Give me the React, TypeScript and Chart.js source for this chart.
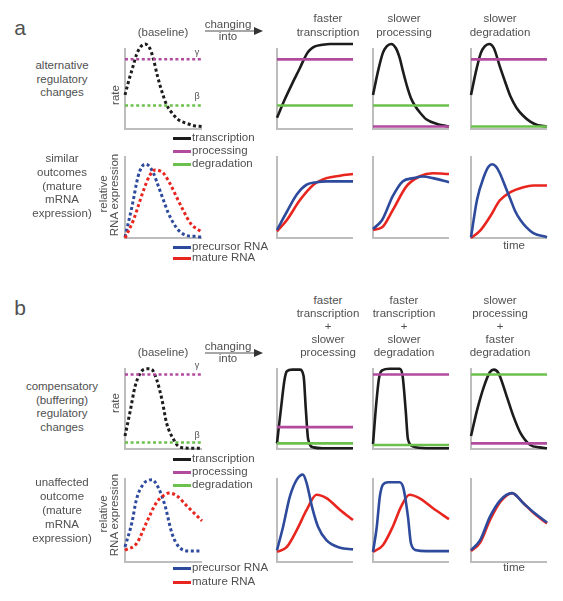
import React, { useEffect, useRef } from "react";
import { Chart, registerables } from "chart.js";

Chart.register(...registerables);

// ---------- colours ----------
const BLACK = "#1c1c1c";
const MAGENTA = "#b24a9e";
const GREEN = "#6cc04c";
const BLUE = "#2d4a9c";
const RED = "#e8261f";
const AXIS = "#bdbdbd";
const TXT = "#505050";
const FONT = "'Liberation Sans', Arial, Helvetica, sans-serif";

// ---------- data (x: time 0..10, y: 0 = axis, 100 = top of axis) ----------
const LINE_X = [0, 10];

// panel a, rates
const aBaseTxX = [0, 0.5, 1, 1.5, 2, 2.6, 3.2, 3.7, 4.2, 4.8, 5.4, 6, 7, 8, 9, 10];
const aBaseTxY = [42, 60, 76, 92, 101, 105, 100, 86, 66, 46, 30, 21, 11, 7, 4, 3];
const aBaseGamma = 86;
const aBaseBeta = 29;

const aFastTxX = [0, 1, 2, 3, 3.5, 4, 4.5, 5, 6, 7, 8, 10];
const aFastTxY = [14, 36, 56, 75, 85, 94, 99, 102, 104, 105, 105, 105];
const aFastProc = 86;
const aFastDeg = 29;

const aSlowProcTxX = [0, 0.7, 1.3, 1.8, 2.4, 3, 3.5, 3.9, 4.5, 5, 5.5, 6.2, 7, 8.5, 10];
const aSlowProcTxY = [42, 73, 94, 102, 105, 100, 88, 73, 52, 38, 29, 20, 12, 6, 3];
const aSlowProcProc = 3;
const aSlowProcDeg = 29;

const aSlowDegTxX = [0, 0.7, 1.3, 1.8, 2.4, 3, 3.8, 4.5, 5.2, 6, 6.9, 7.8, 8.7, 10];
const aSlowDegTxY = [42, 73, 94, 102, 105, 100, 77, 58, 40, 26, 16, 9, 5, 3];
const aSlowDegProc = 86;
const aSlowDegDeg = 3;

// panel a, RNA expression
const aBasePreX = [0, 0.9, 1.7, 2.2, 2.7, 3.2, 3.7, 4.3, 5, 5.6, 6.3, 7, 8, 9, 10];
const aBasePreY = [1, 38, 75, 87, 90, 87, 79, 64, 46, 31, 18, 9, 3, 2, 1];
const aBaseMatX = [0, 1.1, 2.4, 3.2, 3.9, 4.5, 5, 5.8, 6.7, 7.6, 8.5, 10];
const aBaseMatY = [0, 22, 58, 76, 83, 82, 79, 67, 50, 33, 18, 7];

const aFastPreX = [0, 1.3, 2.6, 3.9, 5.2, 6.5, 8, 10];
const aFastPreY = [10, 32, 53, 65, 68, 69, 69, 69];
const aFastMatX = [0, 1.3, 3, 4.8, 6.5, 8.3, 10];
const aFastMatY = [8, 22, 46, 65, 73, 76, 78];

const aSlowProcPreX = [0, 1.2, 2.6, 3.9, 5.3, 6.6, 7.9, 10];
const aSlowProcPreY = [11, 22, 51, 69, 73, 75, 73, 68];
const aSlowProcMatX = [0, 1.2, 2.6, 4.4, 6.1, 7.9, 10];
const aSlowProcMatY = [10, 13, 34, 63, 75, 79, 78];

const aSlowDegPreX = [0, 0.8, 1.7, 2.3, 2.8, 3.3, 3.8, 4.5, 5.2, 5.8, 6.5, 7.3, 8.2, 10];
const aSlowDegPreY = [1, 47, 75, 87, 90, 87, 79, 63, 47, 33, 22, 13, 6, 1];
const aSlowDegMatX = [0, 1.2, 2.5, 3.8, 5.2, 6.9, 8.2, 10];
const aSlowDegMatY = [0, 9, 26, 46, 56, 62, 64, 64];

// panel b, rates
const bBaseTxX = [0, 0.7, 1.3, 2.0, 2.4, 3.0, 3.5, 4.1, 4.8, 5.4, 6.3, 7.0, 8.5, 10];
const bBaseTxY = [16, 48, 77, 94, 98, 99, 98, 86, 61, 32, 12, 3, 1, 1];
const bBaseGamma = 92;
const bBaseBeta = 8;

const bC1TxX = [0, 0.5, 1.0, 1.3, 2.0, 3.0, 3.5, 3.8, 4.1, 4.8, 6, 10];
const bC1TxY = [7, 48, 86, 96, 98, 98, 90, 48, 12, 2, 1, 1];
const bC1Proc = 27;
const bC1Deg = 7;

const bC2TxX = [0, 0.4, 0.8, 1.2, 2.2, 3.5, 3.9, 4.3, 4.6, 5.3, 7, 10];
const bC2TxY = [6, 53, 88, 97, 99, 99, 90, 48, 12, 3, 1, 1];
const bC2Proc = 92;
const bC2Deg = 5;

const bC3TxX = [0, 0.8, 1.7, 2.5, 3.0, 3.6, 4.7, 5.6, 6.5, 7.8, 9, 10];
const bC3TxY = [16, 48, 77, 95, 98, 94, 65, 40, 20, 5, 2, 1];
const bC3Proc = 7;
const bC3Deg = 92;

// panel b, RNA expression
const bBasePreX = [0, 0.9, 1.5, 2.4, 3.0, 3.5, 4.3, 5.2, 6.1, 7.0, 8.5, 10];
const bBasePreY = [18, 47, 75, 93, 97, 98, 89, 67, 34, 18, 13, 13];
const bBaseMatX = [0, 1.5, 2.8, 4.1, 5.0, 5.7, 6.7, 8.0, 10];
const bBaseMatY = [14, 22, 47, 71, 79, 82, 79, 67, 49];

const bC1PreX = [0, 0.8, 1.7, 2.6, 3.4, 3.9, 4.6, 5.4, 6.5, 8.3, 10];
const bC1PreY = [14, 42, 78, 98, 104, 94, 66, 42, 26, 17, 15];
const bC1MatX = [0, 1.3, 2.6, 3.9, 5.2, 6.5, 8.3, 10];
const bC1MatY = [12, 18, 38, 62, 80, 76, 62, 50];

const bC2PreX = [0, 0.5, 0.9, 1.3, 2.0, 3.5, 4.0, 4.6, 5.0, 5.7, 7, 10];
const bC2PreY = [12, 42, 78, 92, 95, 95, 88, 54, 22, 14, 13, 13];
const bC2MatX = [0, 1.3, 2.6, 3.7, 4.8, 6.1, 7.9, 10];
const bC2MatY = [12, 20, 42, 66, 80, 76, 64, 51];

const bC3PreX = [0, 1.2, 2.5, 3.9, 5.4, 6.9, 8.4, 10];
const bC3PreY = [14, 26, 54, 74, 82, 70, 58, 47];
const bC3MatX = [0, 1.2, 2.5, 3.9, 5.4, 6.9, 8.4, 10];
const bC3MatY = [13, 23, 50, 72, 82, 70, 57, 46];

// ---------- chart helpers ----------
type Series = { xs: number[]; ys: number[]; color: string; dash?: boolean; width?: number };

const flat = (v: number) => [v, v];
const PAD = 10;

const axisPlugin = {
  id: "miniAxes",
  beforeDatasetsDraw(chart: any) {
    const { ctx, chartArea: a } = chart;
    ctx.save();
    ctx.strokeStyle = AXIS;
    ctx.lineWidth = 2;
    ctx.lineCap = "butt";
    ctx.beginPath();
    ctx.moveTo(a.left, a.top);
    ctx.lineTo(a.left, a.bottom);
    ctx.lineTo(a.right, a.bottom);
    ctx.stroke();
    ctx.restore();
  },
};

function Mini({ x, y, w, h, series }: { x: number; y: number; w: number; h: number; series: Series[] }) {
  const ref = useRef<HTMLCanvasElement>(null);
  useEffect(() => {
    const chart = new Chart(ref.current as HTMLCanvasElement, {
      type: "line",
      data: {
        datasets: series.map((s) => ({
          data: s.xs.map((xv, i) => ({ x: xv, y: s.ys[i] })),
          borderColor: s.color,
          borderWidth: s.width ?? (s.dash ? 3 : 2.6),
          borderDash: s.dash ? [3, 2.6] : [],
          borderCapStyle: "butt",
          pointRadius: 0,
          cubicInterpolationMode: "monotone",
          fill: false,
          clip: false as any,
        })),
      },
      options: {
        animation: false,
        responsive: false,
        maintainAspectRatio: false,
        events: [],
        layout: { padding: PAD },
        scales: {
          x: { type: "linear", min: 0, max: 10, display: false },
          y: { min: 0, max: 100, display: false },
        },
        plugins: { legend: { display: false }, tooltip: { enabled: false } },
      },
      plugins: [axisPlugin],
    } as any);
    return () => chart.destroy();
  }, []);
  return (
    <canvas
      ref={ref}
      width={w + 2 * PAD}
      height={h + 2 * PAD}
      style={{ position: "absolute", left: x - PAD, top: y - PAD, width: w + 2 * PAD, height: h + 2 * PAD }}
    />
  );
}

function T({ x, y, size = 11.5, rot = false, children }: { x: number; y: number; size?: number; rot?: boolean; children: any }) {
  return (
    <div
      style={{
        position: "absolute",
        left: x,
        top: y,
        transform: `translate(-50%,-50%)${rot ? " rotate(-90deg)" : ""}`,
        fontSize: size,
        lineHeight: 1,
        whiteSpace: "nowrap",
      }}
    >
      {children}
    </div>
  );
}

function Lines({ x, y0, step, lines, size = 11.5 }: { x: number; y0: number; step: number; lines: string[]; size?: number }) {
  return (
    <>
      {lines.map((l, i) => (
        <T key={i} x={x} y={y0 + i * step} size={size}>
          {l}
        </T>
      ))}
    </>
  );
}

function LegendItem({ y, color, label }: { y: number; color: string; label: string }) {
  return (
    <>
      <div style={{ position: "absolute", left: 173, top: y - 1.5, width: 18, height: 3, background: color }} />
      <div style={{ position: "absolute", left: 192, top: y, transform: "translateY(-50%)", fontSize: 11.5, lineHeight: 1, whiteSpace: "nowrap" }}>
        {label}
      </div>
    </>
  );
}

function Arrow({ y }: { y: number }) {
  return (
    <svg style={{ position: "absolute", left: 203, top: y - 5 }} width={62} height={10}>
      <line x1={2} y1={5} x2={52} y2={5} stroke={TXT} strokeWidth={1.2} />
      <polygon points="51,1 60,5 51,9" fill="#333" />
    </svg>
  );
}

// column / row geometry
const COLX = [125, 277, 373, 471];
const COLW = [77, 76, 76, 76];
const ROWS = [
  { y: 48, h: 81 },
  { y: 156, h: 82 },
  { y: 368, h: 81 },
  { y: 478, h: 84 },
];

export default function App() {
  const rateA: Series[][] = [
    [
      { xs: LINE_X, ys: flat(aBaseGamma), color: MAGENTA, dash: true, width: 2.5 },
      { xs: LINE_X, ys: flat(aBaseBeta), color: GREEN, dash: true, width: 2.5 },
      { xs: aBaseTxX, ys: aBaseTxY, color: BLACK, dash: true },
    ],
    [
      { xs: LINE_X, ys: flat(aFastProc), color: MAGENTA },
      { xs: LINE_X, ys: flat(aFastDeg), color: GREEN },
      { xs: aFastTxX, ys: aFastTxY, color: BLACK },
    ],
    [
      { xs: LINE_X, ys: flat(aSlowProcProc), color: MAGENTA },
      { xs: LINE_X, ys: flat(aSlowProcDeg), color: GREEN },
      { xs: aSlowProcTxX, ys: aSlowProcTxY, color: BLACK },
    ],
    [
      { xs: LINE_X, ys: flat(aSlowDegProc), color: MAGENTA },
      { xs: LINE_X, ys: flat(aSlowDegDeg), color: GREEN },
      { xs: aSlowDegTxX, ys: aSlowDegTxY, color: BLACK },
    ],
  ];
  const rnaA: Series[][] = [
    [
      { xs: aBaseMatX, ys: aBaseMatY, color: RED, dash: true },
      { xs: aBasePreX, ys: aBasePreY, color: BLUE, dash: true },
    ],
    [
      { xs: aFastPreX, ys: aFastPreY, color: BLUE },
      { xs: aFastMatX, ys: aFastMatY, color: RED },
    ],
    [
      { xs: aSlowProcPreX, ys: aSlowProcPreY, color: BLUE },
      { xs: aSlowProcMatX, ys: aSlowProcMatY, color: RED },
    ],
    [
      { xs: aSlowDegPreX, ys: aSlowDegPreY, color: BLUE },
      { xs: aSlowDegMatX, ys: aSlowDegMatY, color: RED },
    ],
  ];
  const rateB: Series[][] = [
    [
      { xs: LINE_X, ys: flat(bBaseGamma), color: MAGENTA, dash: true, width: 2.5 },
      { xs: LINE_X, ys: flat(bBaseBeta), color: GREEN, dash: true, width: 2.5 },
      { xs: bBaseTxX, ys: bBaseTxY, color: BLACK, dash: true },
    ],
    [
      { xs: LINE_X, ys: flat(bC1Proc), color: MAGENTA },
      { xs: LINE_X, ys: flat(bC1Deg), color: GREEN },
      { xs: bC1TxX, ys: bC1TxY, color: BLACK },
    ],
    [
      { xs: LINE_X, ys: flat(bC2Proc), color: MAGENTA },
      { xs: LINE_X, ys: flat(bC2Deg), color: GREEN },
      { xs: bC2TxX, ys: bC2TxY, color: BLACK },
    ],
    [
      { xs: LINE_X, ys: flat(bC3Proc), color: MAGENTA },
      { xs: LINE_X, ys: flat(bC3Deg), color: GREEN },
      { xs: bC3TxX, ys: bC3TxY, color: BLACK },
    ],
  ];
  const rnaB: Series[][] = [
    [
      { xs: bBaseMatX, ys: bBaseMatY, color: RED, dash: true },
      { xs: bBasePreX, ys: bBasePreY, color: BLUE, dash: true },
    ],
    [
      { xs: bC1PreX, ys: bC1PreY, color: BLUE },
      { xs: bC1MatX, ys: bC1MatY, color: RED },
    ],
    [
      { xs: bC2PreX, ys: bC2PreY, color: BLUE },
      { xs: bC2MatX, ys: bC2MatY, color: RED },
    ],
    [
      { xs: bC3PreX, ys: bC3PreY, color: BLUE },
      { xs: bC3MatX, ys: bC3MatY, color: RED },
    ],
  ];
  const groups = [rateA, rnaA, rateB, rnaB];

  return (
    <div
      style={{
        position: "absolute",
        left: 0,
        top: 0,
        width: 563,
        height: 601,
        background: "#fff",
        fontFamily: FONT,
        color: TXT,
        overflow: "hidden",
      }}
    >
      {groups.map((g, r) =>
        g.map((s, c) => <Mini key={`${r}-${c}`} x={COLX[c]} y={ROWS[r].y} w={COLW[c]} h={ROWS[r].h} series={s} />)
      )}

      {/* ---------- panel a ---------- */}
      <T x={20} y={27} size={21}>a</T>
      <T x={163} y={33}>(baseline)</T>
      <T x={228} y={25}>changing</T>
      <T x={228} y={37}>into</T>
      <Arrow y={31} />
      <Lines x={328} y0={19} step={14} lines={["faster", "transcription"]} />
      <Lines x={404} y0={19} step={14} lines={["slower", "processing"]} />
      <Lines x={500} y0={19} step={14} lines={["slower", "degradation"]} />

      <Lines x={62} y0={66} step={13.5} lines={["alternative", "regulatory", "changes"]} />
      <T x={116} y={95} rot>rate</T>
      <T x={197} y={52} size={9}>γ</T>
      <T x={197} y={96} size={9}>β</T>
      <LegendItem y={138} color={BLACK} label="transcription" />
      <LegendItem y={151} color={MAGENTA} label="processing" />
      <LegendItem y={164} color={GREEN} label="degradation" />

      <Lines x={62} y0={159} step={13.75} lines={["similar", "outcomes", "(mature", "mRNA", "expression)"]} />
      <T x={103.5} y={194} rot>relative</T>
      <T x={115} y={195} rot>RNA expression</T>
      <LegendItem y={247} color={BLUE} label="precursor RNA" />
      <LegendItem y={258} color={RED} label="mature RNA" />
      <T x={514} y={246}>time</T>

      {/* ---------- panel b ---------- */}
      <T x={20} y={307} size={21}>b</T>
      <T x={163} y={353}>(baseline)</T>
      <T x={228} y={347}>changing</T>
      <T x={228} y={359}>into</T>
      <Arrow y={353} />
      <Lines x={328} y0={301} step={13} lines={["faster", "transcription", "+", "slower", "processing"]} />
      <Lines x={404} y0={301} step={13} lines={["faster", "transcription", "+", "slower", "degradation"]} />
      <Lines x={500} y0={301} step={13} lines={["slower", "processing", "+", "faster", "degradation"]} />

      <Lines x={62} y0={387} step={13.7} lines={["compensatory", "(buffering)", "regulatory", "changes"]} />
      <T x={116} y={403} rot>rate</T>
      <T x={197} y={365} size={9}>γ</T>
      <T x={197} y={435} size={9}>β</T>
      <LegendItem y={459} color={BLACK} label="transcription" />
      <LegendItem y={472} color={MAGENTA} label="processing" />
      <LegendItem y={485} color={GREEN} label="degradation" />

      <Lines x={62} y0={483} step={13.9} lines={["unaffected", "outcome", "(mature", "mRNA", "expression)"]} />
      <T x={103.5} y={514} rot>relative</T>
      <T x={115} y={515} rot>RNA expression</T>
      <LegendItem y={568} color={BLUE} label="precursor RNA" />
      <LegendItem y={582} color={RED} label="mature RNA" />
      <T x={514} y={568}>time</T>
    </div>
  );
}
